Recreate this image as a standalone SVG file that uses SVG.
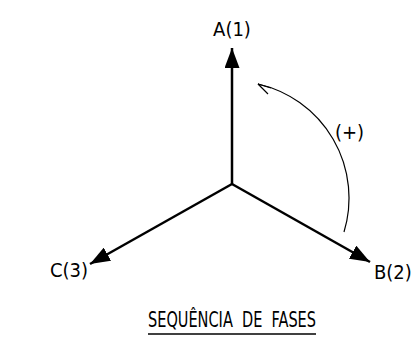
<svg xmlns="http://www.w3.org/2000/svg" width="414" height="361" viewBox="0 0 414 361">
<style>
.t{font-family:"DejaVu Sans Condensed","DejaVu Sans",sans-serif;fill:#000;}
.ph{stroke:#000;stroke-width:2.5;fill:none;}
</style>
<defs>
<marker id="ah" markerWidth="8" markerHeight="6" refX="8" refY="3" orient="auto" markerUnits="strokeWidth">
<path d="M0,0 L8,3 L0,6 Z" fill="#000"/>
</marker>
</defs>
<rect width="414" height="361" fill="#fff"/>
<g id="connectors">
<line class="ph" x1="232" y1="184" x2="232" y2="48" marker-end="url(#ah)"/>
<line class="ph" x1="232" y1="184" x2="370" y2="262" marker-end="url(#ah)"/>
<line class="ph" x1="232" y1="184" x2="90" y2="264" marker-end="url(#ah)"/>
<path d="M344,232 A117,117 0 0 0 258,84" stroke="#000" stroke-width="1.2" fill="none"/>
<path d="M271,88 L258,84 L268,94" stroke="#000" stroke-width="1.2" fill="none"/>
</g>
<g id="node-A"><text class="t" x="232" y="36" font-size="20" text-anchor="middle">A(1)</text></g>
<g id="node-B"><text class="t" x="374" y="279" font-size="20">B(2)</text></g>
<g id="node-C"><text class="t" x="50" y="277" font-size="20">C(3)</text></g>
<g id="label-plus"><text class="t" x="335" y="139" font-size="20">(+)</text></g>
<g id="title">
<text class="t" x="148" y="327" font-size="22" textLength="168" lengthAdjust="spacingAndGlyphs" xml:space="preserve">SEQUÊNCIA  DE  FASES</text>
<line x1="148" y1="334" x2="316" y2="334" stroke="#000" stroke-width="1.5"/>
</g>
</svg>
